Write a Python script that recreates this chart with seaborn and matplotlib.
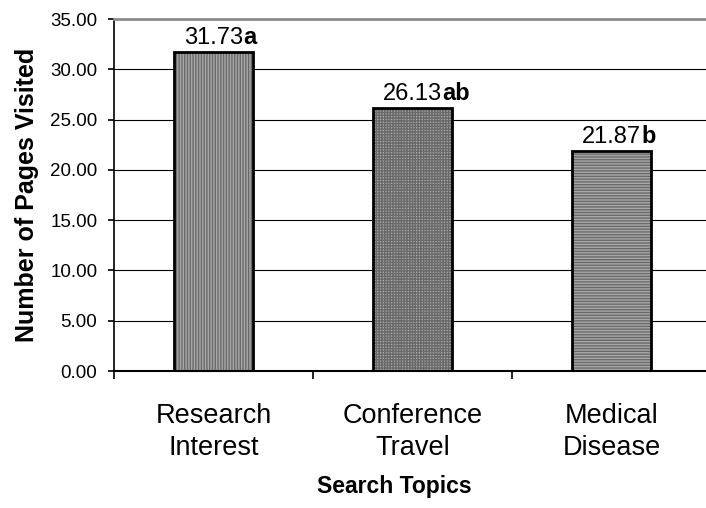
import numpy as np
import pandas as pd
import seaborn as sns
import matplotlib.pyplot as plt

# Data
topics = ["Research\nInterest", "Conference\nTravel", "Medical\nDisease"]
pages = [31.73, 26.13, 21.87]
letters = ["a", "ab", "b"]
hatches = ["||||||", "++++++", "------"]

df = pd.DataFrame({"topic": topics, "pages": pages})

sns.set_theme(style="white")
plt.rcParams["font.family"] = ["Liberation Sans", "DejaVu Sans"]
plt.rcParams["hatch.linewidth"] = 1.0
for k in ["text.color", "axes.labelcolor", "xtick.color", "ytick.color"]:
    plt.rcParams[k] = "black"

fig = plt.figure(figsize=(7.06, 5.08), dpi=100)
ax = fig.add_axes([114 / 706, 1 - 371 / 508, 597 / 706, 352 / 508])

# ------------------------------------------------------------
# hatched fill (hatch colour comes from edgecolor), then black outline
sns.barplot(data=df, x="topic", y="pages", color="#a8a8a8", width=0.4,
            edgecolor="#6a6a6a", linewidth=0, ax=ax)
for p, h in zip(ax.patches, hatches):
    p.set_hatch(h)
sns.barplot(data=df, x="topic", y="pages", fill=False, width=0.4,
            edgecolor="black", linewidth=2, ax=ax)

# value labels: number centred, significance letters in bold after it
for i, (v, let) in enumerate(zip(pages, letters)):
    t = ax.annotate(f"{v:.2f}", xy=(i, v), xytext=(0, 6), textcoords="offset points",
                    ha="center", va="baseline", fontsize=17)
    ax.annotate(let, xy=(1, 0), xycoords=t, ha="left", va="bottom",
                fontsize=17, fontweight="bold")

# ------------------------------------------------------------
# axes styling
ax.set_ylim(0, 35)
ax.set_yticks(np.arange(0, 36, 5))
ax.set_yticklabels([f"{y:.2f}" for y in np.arange(0, 36, 5)], fontsize=13.5)
ax.yaxis.grid(True, color="black", linewidth=0.8)
ax.set_axisbelow(True)

ax.set_xlim(-0.5, 2.5)
ax.set_xticks(range(len(topics)))
ax.set_xticklabels(topics, fontsize=19.5, linespacing=1.3)
ax.set_xticks([-0.5, 0.5, 1.5, 2.5], minor=True)
ax.tick_params(axis="x", which="major", length=0, pad=23)
ax.tick_params(axis="x", which="minor", length=6, width=1.2, color="black", bottom=True)
ax.tick_params(axis="y", length=4, width=1.2, color="black", left=True, pad=8)

ax.spines["left"].set_color("black")
ax.spines["left"].set_linewidth(1.2)
ax.spines["bottom"].set_color("black")
ax.spines["bottom"].set_linewidth(1.5)
ax.spines["top"].set_color("#8c8c8c")
ax.spines["top"].set_linewidth(2)
ax.spines["right"].set_visible(False)

ax.set_ylabel("Number of Pages Visited", fontsize=18, fontweight="bold")
ax.yaxis.set_label_coords(-0.125, 0.5)
ax.set_xlabel("Search Topics", fontsize=16.5, fontweight="bold")
ax.xaxis.set_label_coords(0.469, -0.295)

plt.savefig("out.png", dpi=100)
